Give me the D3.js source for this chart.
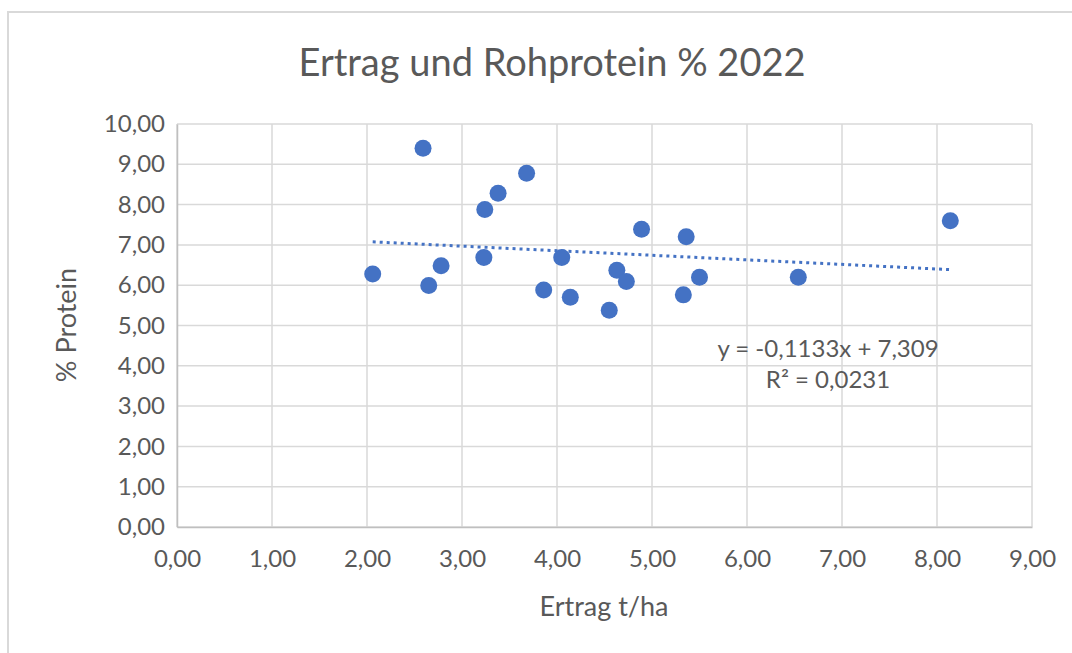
<!DOCTYPE html>
<html>
<head>
<meta charset="utf-8">
<script src="https://cdn.jsdelivr.net/npm/d3@7"></script>
<style>
  body { margin: 0; background: #fff; }
  svg { display: block; font-family: Lato, "Open Sans", sans-serif; }
</style>
</head>
<body>
<div id="chart"></div>
<script>
// yield t/ha and protein %
const ertrag  = [2.06, 2.59, 2.65, 2.78, 3.23, 3.24, 3.38, 3.68, 3.86, 4.05, 4.14, 4.55, 4.63, 4.73, 4.89, 5.33, 5.36, 5.50, 6.54, 8.14];
const protein = [6.28, 9.40, 5.99, 6.48, 6.69, 7.88, 8.28, 8.78, 5.88, 6.69, 5.70, 5.38, 6.37, 6.09, 7.39, 5.76, 7.20, 6.20, 6.20, 7.60];
const xTicks = [0, 1, 2, 3, 4, 5, 6, 7, 8, 9];
const yTicks = [0, 1, 2, 3, 4, 5, 6, 7, 8, 9, 10];
const trendSlope = -0.1133;
const trendIntercept = 7.309;
const equationLines = ["y = -0,1133x + 7,309", "R² = 0,0231"];

const W = 1072, H = 653;
const margin = { top: 124, right: 40, bottom: 126, left: 177 };
const width = 1032 - margin.left;
const height = 527 - margin.top;
const blue = "#4472c4";
const fmt = v => d3.format(".2f")(v).replace(".", ",");

const svg = d3.select("#chart").append("svg")
    .attr("width", W)
    .attr("height", H);

// chart frame
svg.append("rect")
    .attr("x", 8).attr("y", 12)
    .attr("width", W + 20).attr("height", H + 20)
    .attr("fill", "#fff")
    .attr("stroke", "#d9d9d9")
    .attr("stroke-width", 2);

svg.append("text")
    .attr("x", 552).attr("y", 76)
    .attr("text-anchor", "middle")
    .attr("font-size", 38)
    .attr("fill", "#595959")
    .text("Ertrag und Rohprotein % 2022");

const g = svg.append("g")
    .attr("transform", `translate(${margin.left},${margin.top})`);

const x = d3.scaleLinear().domain([0, 9]).range([0, width]);
const y = d3.scaleLinear().domain([0, 10]).range([height, 0]);

// grid
g.append("g")
    .selectAll("line")
    .data(xTicks)
    .join("line")
    .attr("x1", d => x(d)).attr("x2", d => x(d))
    .attr("y1", 0).attr("y2", height)
    .attr("stroke", "#d9d9d9")
    .attr("stroke-width", 1.5);

g.append("g")
    .selectAll("line")
    .data(yTicks)
    .join("line")
    .attr("x1", 0).attr("x2", width)
    .attr("y1", d => y(d)).attr("y2", d => y(d))
    .attr("stroke", "#d9d9d9")
    .attr("stroke-width", 1.5);

// axes
const xAxis = g.append("g")
    .attr("transform", `translate(0,${height})`)
    .call(d3.axisBottom(x).tickValues(xTicks).tickFormat(fmt).tickSize(0).tickPadding(23));
xAxis.select(".domain").attr("stroke", "#bfbfbf").attr("stroke-width", 1.5);

const yAxis = g.append("g")
    .call(d3.axisLeft(y).tickValues(yTicks).tickFormat(fmt).tickSize(0).tickPadding(12));
yAxis.select(".domain").attr("stroke", "#bfbfbf").attr("stroke-width", 1.5);

g.selectAll(".tick text")
    .attr("font-size", 24)
    .attr("fill", "#595959")
    .attr("font-family", "Lato, 'Open Sans', sans-serif");

// trendline
const xMin = d3.min(ertrag), xMax = d3.max(ertrag);
const trend = [xMin, xMax].map(v => [v, trendSlope * v + trendIntercept]);
g.append("path")
    .datum(trend)
    .attr("d", d3.line().x(d => x(d[0])).y(d => y(d[1])))
    .attr("fill", "none")
    .attr("stroke", blue)
    .attr("stroke-width", 3)
    .attr("stroke-dasharray", "3 4");

// points
g.append("g")
    .selectAll("circle")
    .data(ertrag.map((v, i) => [v, protein[i]]))
    .join("circle")
    .attr("cx", d => x(d[0]))
    .attr("cy", d => y(d[1]))
    .attr("r", 8.5)
    .attr("fill", blue);

// equation
svg.append("g")
    .selectAll("text")
    .data(equationLines)
    .join("text")
    .attr("x", 828)
    .attr("y", (d, i) => 357 + i * 31)
    .attr("text-anchor", "middle")
    .attr("font-size", 24)
    .attr("fill", "#595959")
    .text(d => d);

// axis titles
svg.append("text")
    .attr("x", 604).attr("y", 616)
    .attr("text-anchor", "middle")
    .attr("font-size", 27)
    .attr("fill", "#595959")
    .text("Ertrag t/ha");

svg.append("text")
    .attr("transform", "translate(76,325) rotate(-90)")
    .attr("text-anchor", "middle")
    .attr("font-size", 27)
    .attr("fill", "#595959")
    .text("% Protein");
</script>
</body>
</html>
